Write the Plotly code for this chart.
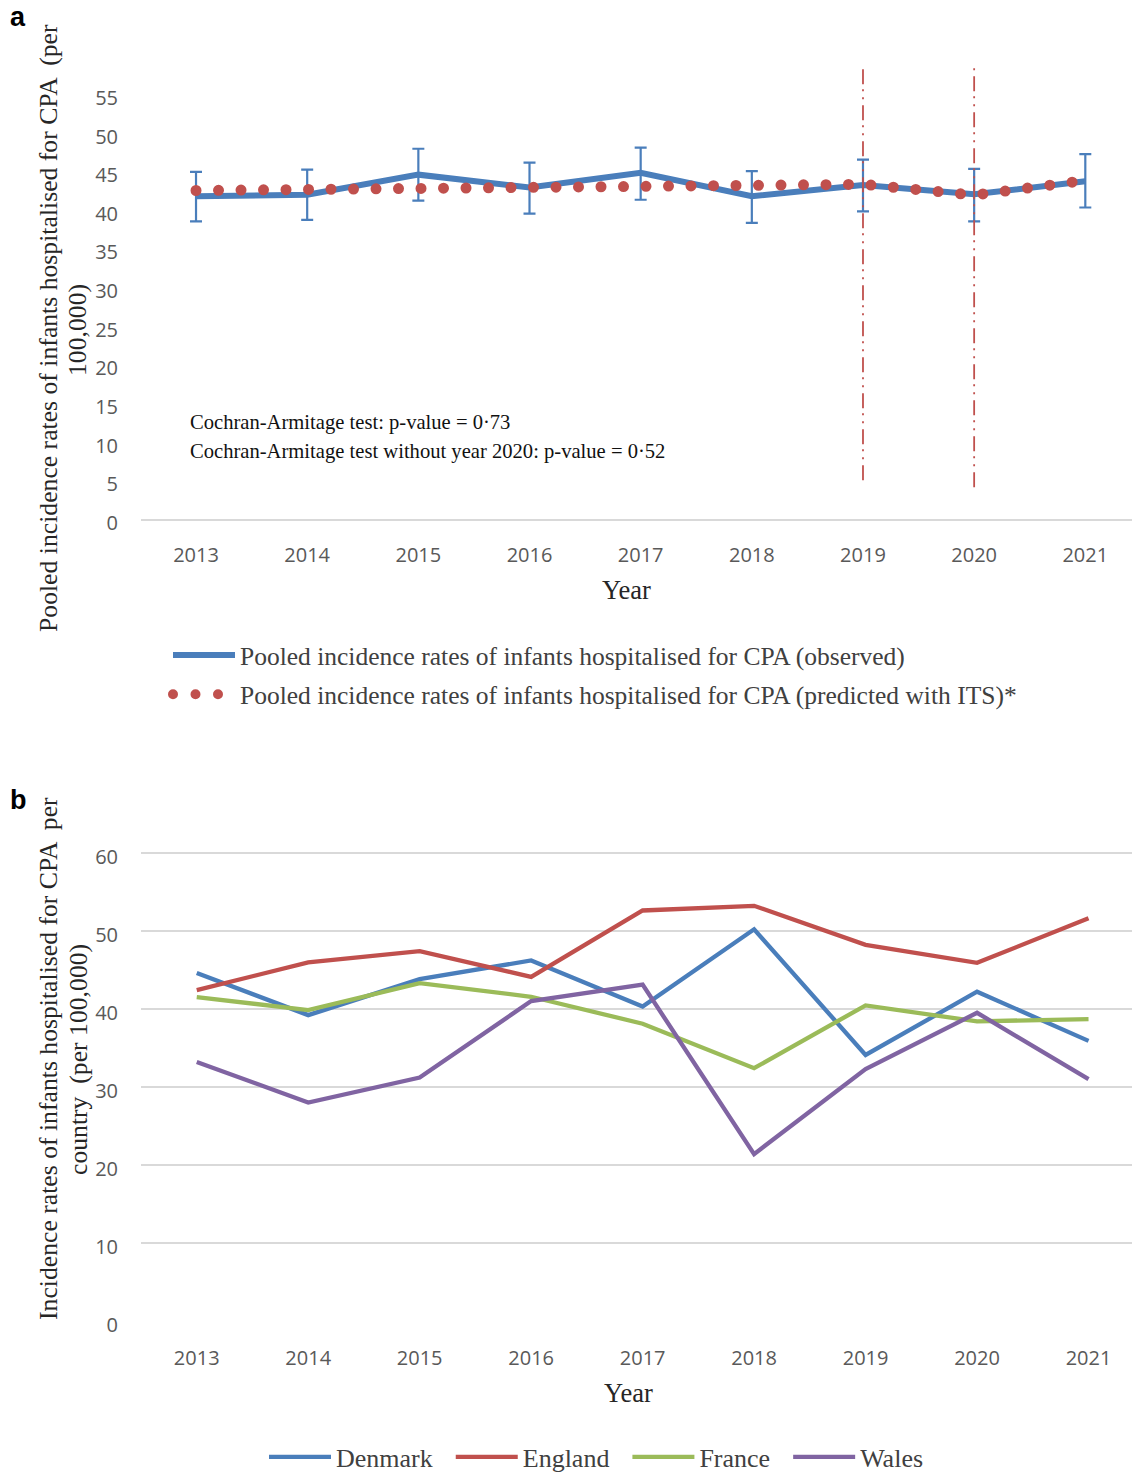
import plotly.graph_objects as go

# ---- data -------------------------------------------------------------
years = [2013, 2014, 2015, 2016, 2017, 2018, 2019, 2020, 2021]

# pooled incidence (per 100,000): observed with 95% CI, and ITS prediction
pooled_observed = [41.75, 41.95, 44.55, 42.9, 44.8, 41.75, 43.2, 42.0, 43.7]
pooled_ci_upper = [44.9, 45.2, 47.9, 46.1, 48.05, 45.0, 46.5, 45.3, 47.2]
pooled_ci_lower = [38.5, 38.7, 41.2, 39.5, 41.3, 38.3, 39.8, 38.5, 40.3]
pooled_predicted = [42.5, 42.65, 42.8, 42.95, 43.1, 43.2, 43.3, 41.9, 43.8]
interruption_years = [2019, 2020]

# incidence per country (per 100,000)
countries = ["Denmark", "England", "France", "Wales"]
denmark = [44.6, 39.2, 43.8, 46.2, 40.3, 50.2, 34.1, 42.2, 35.9]
england = [42.4, 45.95, 47.4, 44.1, 52.6, 53.2, 48.2, 45.9, 51.6]
france = [41.5, 39.85, 43.3, 41.55, 38.1, 32.4, 40.45, 38.4, 38.7]
wales = [33.2, 28.0, 31.2, 41.0, 43.1, 21.4, 32.3, 39.5, 31.0]

# ---- styling ----------------------------------------------------------
W, H = 1132, 1474
LEFT = 141
BLUE, RED, GREEN, PURPLE = "#4A7EBB", "#C0504D", "#9BBB59", "#8064A2"
SERIF = "Liberation Serif, Times New Roman, serif"
SANS = "Open Sans, sans-serif"
TICK_COLOR = "#595959"
TEXT_COLOR = "#404040"
TITLE_COLOR = "#262626"
GRID = "#D9D9D9"


def fx(px):
    return (px - LEFT) / (W - LEFT)


def fy(px):
    return 1 - px / H


err_plus = [u - o for u, o in zip(pooled_ci_upper, pooled_observed)]
err_minus = [o - l for o, l in zip(pooled_observed, pooled_ci_lower)]

fig = go.Figure()

fig.add_trace(go.Scatter(
    x=years, y=pooled_observed, mode="lines",
    name="Pooled incidence rates of infants hospitalised for CPA (observed)",
    line=dict(color=BLUE, width=6),
    error_y=dict(type="data", symmetric=False, array=err_plus,
                 arrayminus=err_minus, color=BLUE, thickness=2.2, width=6),
    xaxis="x", yaxis="y", legend="legend", legendgroup="observed",
))
fig.add_trace(go.Scatter(
    x=years, y=pooled_predicted, mode="lines",
    name="Pooled incidence rates of infants hospitalised for CPA (predicted with ITS)*",
    line=dict(color=RED, width=11, dash="0px,22.5px"),
    xaxis="x", yaxis="y", legend="legend", legendgroup="predicted",
))

for name, vals, col in zip(countries, [denmark, england, france, wales],
                           [BLUE, RED, GREEN, PURPLE]):
    fig.add_trace(go.Scatter(
        x=years, y=vals, mode="lines", name=name + "\u2002",
        line=dict(color=col, width=4.3),
        xaxis="x2", yaxis="y2", legend="legend2",
    ))

# interruption markers (dash-dot-dot vertical lines)
for yr, y_low in zip(interruption_years, [5.0, 4.1]):
    fig.add_shape(type="line", xref="x", yref="y", x0=yr, x1=yr,
                  y0=y_low, y1=58.7,
                  line=dict(color=RED, width=1.8,
                            dash="15px,6px,2px,6px,2px,5px"))

axis_font = dict(family=SANS, size=20, color=TICK_COLOR)

fig.update_layout(
    width=W, height=H,
    margin=dict(l=LEFT, r=0, t=0, b=0, autoexpand=False),
    paper_bgcolor="white", plot_bgcolor="white",
    xaxis=dict(domain=[0, 1], range=[2012.505, 2021.42], tickvals=years,
               showgrid=False, zeroline=False, showline=True,
               linecolor=GRID, linewidth=1.6, ticks="",
               tickfont=axis_font, ticklabelstandoff=17, anchor="y"),
    yaxis=dict(domain=[fy(518.8), fy(518.8 - 60 * 7.725)], range=[0, 60],
               tickvals=list(range(0, 60, 5)), showgrid=False,
               zeroline=False, showline=False, ticks="",
               tickfont=axis_font, ticklabelstandoff=22, ticklabelshift=4,
               anchor="x"),
    xaxis2=dict(domain=[0, 1], range=[2012.5, 2021.39], tickvals=years,
                showgrid=False, zeroline=False, showline=False, ticks="",
                tickfont=axis_font, ticklabelstandoff=23, anchor="y2"),
    yaxis2=dict(domain=[fy(1321.2), fy(1321.2 - 60.3 * 7.808)],
                range=[0, 60.3], tickvals=list(range(0, 70, 10)),
                showgrid=True, gridcolor=GRID, gridwidth=1.6,
                zeroline=False, showline=False, ticks="",
                tickfont=axis_font, ticklabelstandoff=22, ticklabelshift=4,
                anchor="x2"),
    legend=dict(x=fx(168), y=fy(632), xanchor="left", yanchor="top",
                orientation="v", itemwidth=62, tracegroupgap=3,
                font=dict(family=SERIF, size=25.5, color=TEXT_COLOR),
                bgcolor="rgba(0,0,0,0)"),
    legend2=dict(x=fx(603), y=fy(1457), xanchor="center", yanchor="middle",
                 orientation="h", itemwidth=62,
                 font=dict(family=SERIF, size=26, color=TEXT_COLOR),
                 bgcolor="rgba(0,0,0,0)"),
    showlegend=True,
)

title_font = dict(family=SERIF, size=25.7, color=TITLE_COLOR)
annotations = [
    # panel letters
    dict(text="<b>a</b>", x=fx(18), y=fy(17), font=dict(family="Liberation Sans, Arial", size=27, color="black")),
    dict(text="<b>b</b>", x=fx(18), y=fy(800), font=dict(family="Liberation Sans, Arial", size=27, color="black")),
    # axis titles
    dict(text="Pooled incidence rates of infants hospitalised for CPA \u00a0(per",
         x=fx(48), y=fy(328), textangle=-90, font=title_font),
    dict(text="100,000)", x=fx(78), y=fy(330), textangle=-90, font=title_font),
    dict(text="Incidence rates of infants hospitalised for CPA \u00a0per",
         x=fx(48), y=fy(1059), textangle=-90, font=title_font),
    dict(text="country \u00a0(per 100,000)", x=fx(78), y=fy(1060),
         textangle=-90, font=title_font),
    dict(text="Year", x=fx(626), y=fy(590),
         font=dict(family=SERIF, size=26.5, color=TITLE_COLOR)),
    dict(text="Year", x=fx(628), y=fy(1393),
         font=dict(family=SERIF, size=26.5, color=TITLE_COLOR)),
    # trend test results
    dict(text="Cochran-Armitage test: p-value = 0\u00b773", x=fx(188), y=fy(423),
         xanchor="left", font=dict(family=SERIF, size=20.6, color="#111111")),
    dict(text="Cochran-Armitage test without year 2020: p-value = 0\u00b752",
         x=fx(188), y=fy(452), xanchor="left",
         font=dict(family=SERIF, size=20.6, color="#111111")),
]
for a in annotations:
    a.setdefault("xanchor", "center")
    a.update(xref="paper", yref="paper", yanchor="middle", showarrow=False)
fig.update_layout(annotations=annotations)

# round caps turn the zero-length dashes of the predicted series into dots
post = """
var gd = document.getElementById('{plot_id}');
function roundDots(){
  gd.querySelectorAll('path.js-line').forEach(function(p){
    var d = p.style.strokeDasharray || '';
    if (d.indexOf('22.5') >= 0) { p.style.strokeLinecap = 'round'; }
  });
}
roundDots();
gd.on('plotly_afterplot', roundDots);
"""

fig.write_html("out.html", post_script=post)
